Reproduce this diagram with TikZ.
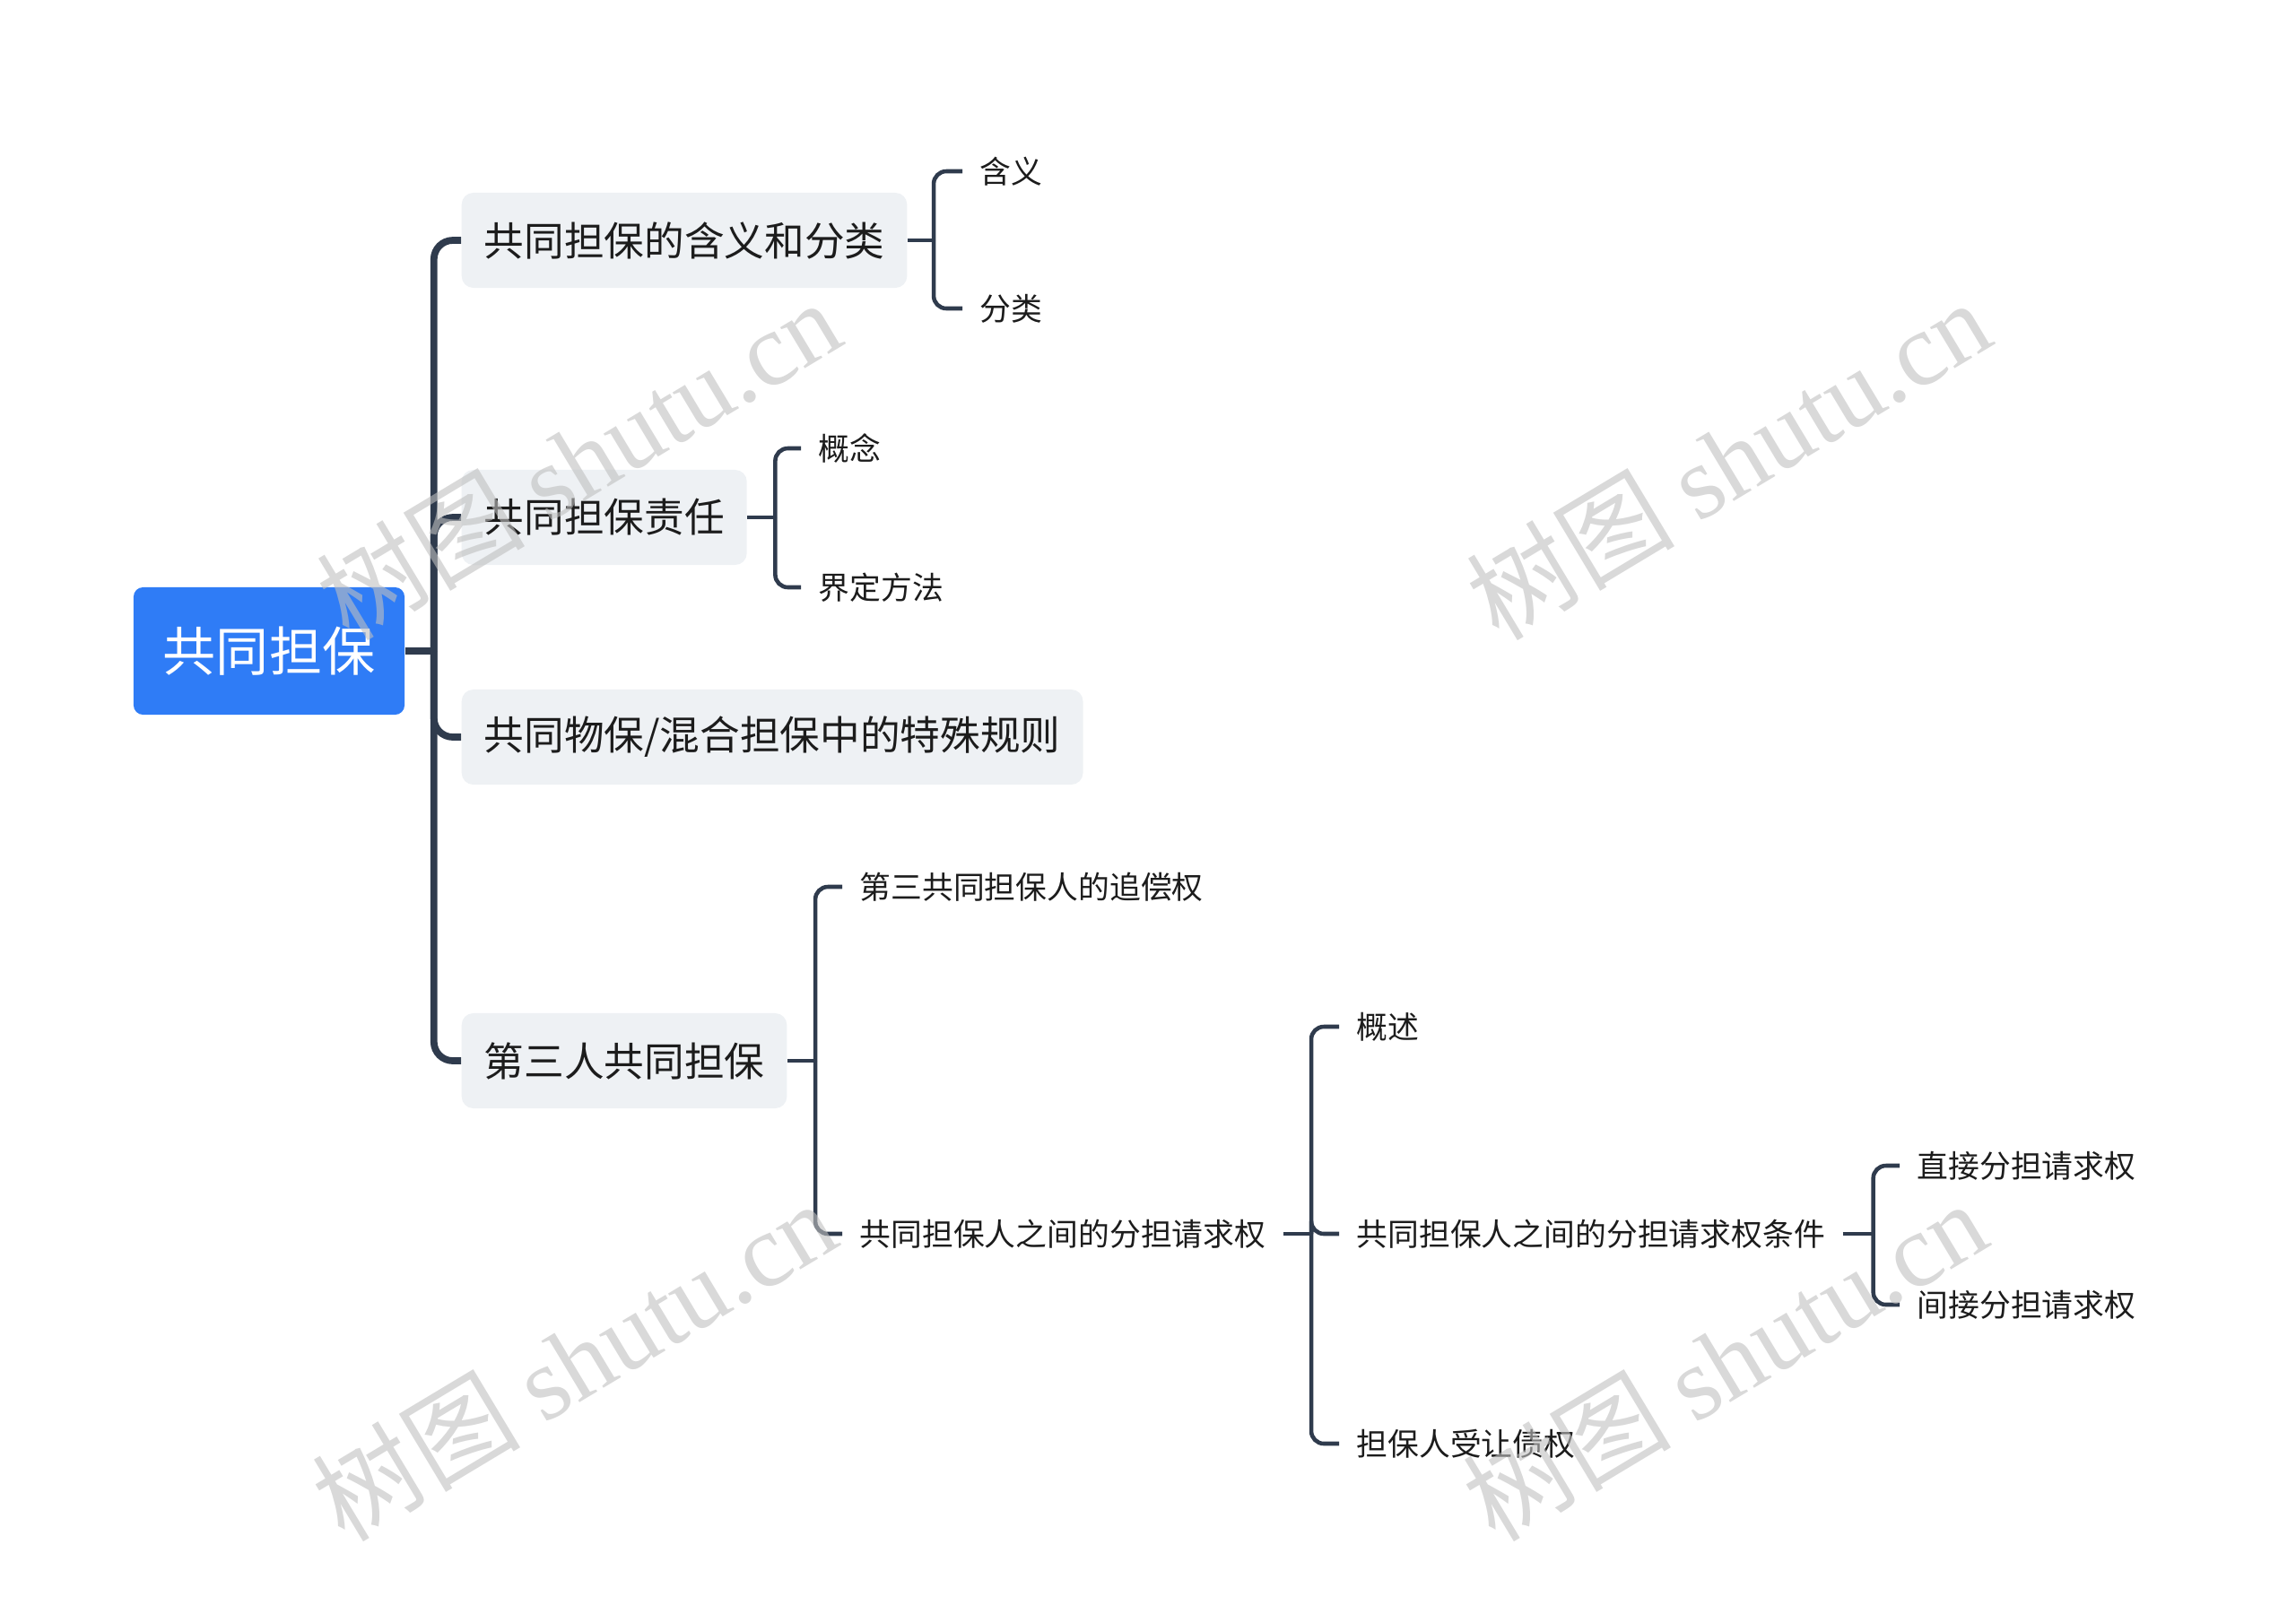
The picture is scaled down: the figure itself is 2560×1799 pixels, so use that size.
\documentclass[tikz,border=0pt]{standalone}
\usepackage{fontspec}
\setmainfont{Noto Sans CJK SC}
\newfontfamily\wmlatin{Liberation Serif}
\usepackage{tikz}
\usetikzlibrary{positioning}
\usepackage{xcolor}
\definecolor{rootblue}{HTML}{2F7CF6}
\definecolor{topicgray}{HTML}{EEF1F4}
\definecolor{linecol}{HTML}{2F3B4D}
\definecolor{txtcol}{HTML}{1C1C1C}

\begin{document}
\begin{tikzpicture}[x=0.01cm, y=-0.01cm,
    root/.style={rectangle, rounded corners=3pt, fill=rootblue, text=white, minimum width=3.02cm, minimum height=1.42cm, font=\fontsize{16.8}{20}\selectfont},
    topic/.style={rectangle, rounded corners=3.7pt, fill=topicgray, text=txtcol, anchor=west, minimum height=1.06cm, inner xsep=0.25cm, font=\fontsize{12.7}{15}\selectfont},
    leaf/.style={anchor=west, text=txtcol, inner xsep=0.19cm, inner ysep=2pt, font=\fontsize{9.9}{12}\selectfont},
    mainline/.style={draw=linecol, line width=2.2pt, rounded corners=6pt},
    subline/.style={draw=linecol, line width=1.3pt, rounded corners=4pt},
    wm/.style={text=gray!50, opacity=0.6, rotate=31, font=\fontsize{33}{40}\selectfont}
]
\useasboundingbox (0,0) rectangle (2560,1799);

% Root
\node[root] (root) at (300, 726) {共同担保};

% First level topics
\node[topic] (meaning) at (514, 268) {共同担保的含义和分类};
\node[topic] (liability) at (514, 577) {共同担保责任};
\node[topic] (mixed) at (514, 822) {共同物保/混合担保中的特殊规则};
\node[topic] (third) at (514, 1183) {第三人共同担保};

% Leaves of meaning and liability
\node[leaf] (hanyi) at (1073, 191) {含义};
\node[leaf] (fenlei) at (1073, 344) {分类};
\node[leaf] (gainian) at (893, 500) {概念};
\node[leaf] (jieding) at (893, 655) {界定方法};

% Third-party branch
\node[leaf] (zhuichang) at (939, 989) {第三共同担保人的追偿权};
\node[leaf] (fendan) at (939, 1376) {共同担保人之间的分担请求权};
\node[leaf] (gaishu) at (1493, 1145) {概述};
\node[leaf] (tiaojian) at (1493, 1376) {共同担保人之间的分担请求权条件};
\node[leaf] (shourang) at (1493, 1610) {担保人受让债权};
\node[leaf] (zhijie) at (2118, 1300) {直接分担请求权};
\node[leaf] (jianjie) at (2118, 1455) {间接分担请求权};

% Connectors: root to topics
\draw[mainline] (root.east) -- ++(32, 0) coordinate (j0);
\foreach \t in {meaning, liability, mixed, third}
    \draw[mainline] (j0) |- (\t.west);

% Connectors: topics to leaves
\draw[subline] (meaning.east) -- ++(29, 0) coordinate (j1);
\foreach \t in {hanyi, fenlei}
    \draw[subline] (j1) |- (\t.west);
\draw[subline] (liability.east) -- ++(31, 0) coordinate (j2);
\foreach \t in {gainian, jieding}
    \draw[subline] (j2) |- (\t.west);
\draw[subline] (third.east) -- ++(31, 0) coordinate (j3);
\foreach \t in {zhuichang, fendan}
    \draw[subline] (j3) |- (\t.west);
\draw[subline] (fendan.east) -- ++(31, 0) coordinate (j4);
\foreach \t in {gaishu, tiaojian, shourang}
    \draw[subline] (j4) |- (\t.west);
\draw[subline] (tiaojian.east) -- ++(34, 0) coordinate (j5);
\foreach \t in {zhijie, jianjie}
    \draw[subline] (j5) |- (\t.west);

% Watermarks
\node[wm] (wm1) at (645, 512) {树图 {\wmlatin shutu.cn}};
\node[wm] (wm2) at (1927, 512) {树图 {\wmlatin shutu.cn}};
\node[wm] (wm3) at (640, 1517) {树图 {\wmlatin shutu.cn}};
\node[wm] (wm4) at (1923, 1517) {树图 {\wmlatin shutu.cn}};

\end{tikzpicture}
\end{document}
